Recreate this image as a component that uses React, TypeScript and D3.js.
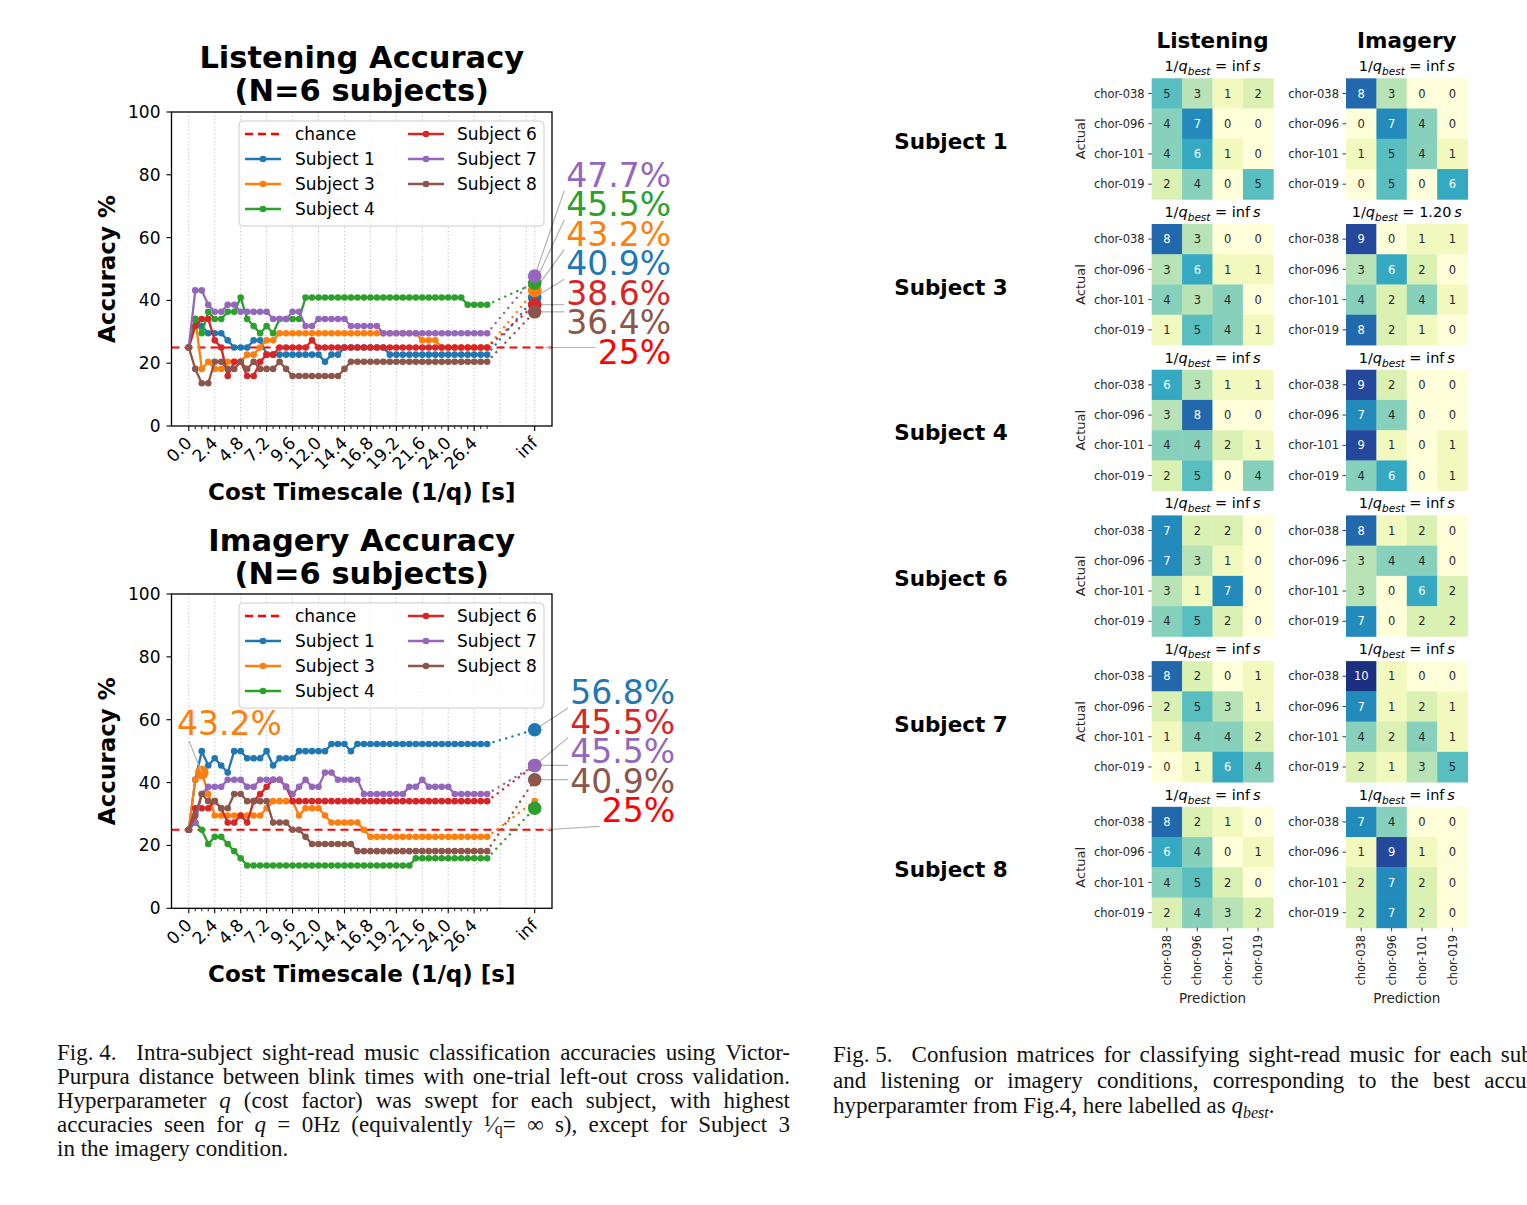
import React from 'react';
import * as d3 from 'd3';

const FONT = '"DejaVu Sans", Verdana, sans-serif';
const SERIF = '"Liberation Serif", "Times New Roman", serif';

// ---------------- data ----------------
const SUBJECTS = ['Subject 1', 'Subject 3', 'Subject 4', 'Subject 6', 'Subject 7', 'Subject 8'];
const SUBJECT_COLORS = ['#1f77b4', '#ff7f0e', '#2ca02c', '#d62728', '#9467bd', '#8c564b'];
const CHANCE_COLOR = '#ff0000';
const TOTAL_TRIALS = 44; // accuracies are correct trials out of 44
const CHANCE_PCT = 25;
const Q_STEP_S = 0.6; // sweep step of 1/q in seconds
const N_SWEEP = 47;
const INF_X = 32; // position where "inf" is plotted
const MAJOR_TICKS = [0, 2.4, 4.8, 7.2, 9.6, 12.0, 14.4, 16.8, 19.2, 21.6, 24.0, 26.4];
const GRID_TICKS = [0, 2.4, 4.8, 7.2, 9.6, 12.0, 14.4, 16.8, 19.2, 21.6, 24.0, 26.4, 28.8, 31.2];
const Y_TICKS = [0, 20, 40, 60, 80, 100];

// Listening: correct trials (of 44) per sweep step
const LISTEN_S1 = [11,15,14,13,13,13,12,11,11,11, 12,12,10,10,10,10,10,10,10,10, 10,9,10,10,11,11,11,11,11,11, 11,10,10,10,10,10,10,10,10,10, 10,10,10,10,10,10,10];
const LISTEN_S3 = [11,15,8,9,8,8,9,9,9,10, 10,11,12,12,13,13,13,13,13,13, 13,13,13,13,13,13,13,13,13,13, 13,13,13,13,13,13,12,12,12,11, 11,11,11,11,11,11,11];
const LISTEN_S4 = [11,15,13,16,15,15,16,16,18,15, 14,13,14,13,15,15,15,15,18,18, 18,18,18,18,18,18,18,18,18,18, 18,18,18,18,18,18,18,18,18,18, 18,18,18,17,17,17,17];
const LISTEN_S6 = [11,14,15,15,12,11,7,9,9,7, 7,9,10,10,11,11,11,11,11,12, 11,11,11,11,11,11,11,11,11,11, 11,11,11,11,11,11,11,11,11,11, 11,11,11,11,11,11,11];
const LISTEN_S7 = [11,19,19,17,16,16,17,17,16,16, 16,16,16,15,15,15,16,16,14,14, 15,15,15,15,15,14,14,14,14,14, 13,13,13,13,13,13,13,13,13,13, 13,13,13,13,13,13,13];
const LISTEN_S8 = [11,8,6,6,9,9,8,8,9,8, 9,8,8,8,9,8,7,7,7,7, 7,7,7,7,8,9,9,9,9,9, 9,9,9,9,9,9,9,9,9,9, 9,9,9,9,9,9,9];
const LISTEN_INF = [18, 19, 20, 17, 21, 16];
const LISTEN_BEST_INDEX = [-1, -1, -1, -1, -1, -1]; // -1 = best at inf
const LISTEN_LABEL_ORDER = [4, 2, 1, 0, 3, 5];

// Imagery
const IMAGERY_S1 = [11,18,22,20,21,20,19,22,22,21, 21,21,22,20,21,21,21,22,22,22, 22,22,23,23,23,22,23,23,23,23, 23,23,23,23,23,23,23,23,23,23, 23,23,23,23,23,23,23];
const IMAGERY_S3 = [11,18,19,16,13,13,13,13,13,13, 13,13,14,15,15,15,15,13,14,14, 14,13,12,12,12,12,12,11,10,10, 10,10,10,10,10,10,10,10,10,10, 10,10,10,10,10,10,10];
const IMAGERY_S4 = [11,12,11,9,10,10,9,8,7,6, 6,6,6,6,6,6,6,6,6,6, 6,6,6,6,6,6,6,6,6,6, 6,6,6,6,6,7,7,7,7,7, 7,7,7,7,7,7,7];
const IMAGERY_S6 = [11,14,14,14,15,14,12,12,13,12, 15,16,17,18,18,17,15,15,15,15, 15,15,15,15,15,15,15,15,15,15, 15,15,15,15,15,15,15,15,15,15, 15,15,15,15,15,15,15];
const IMAGERY_S7 = [11,12,16,17,17,17,18,18,18,17, 17,18,18,18,18,17,16,17,18,17, 17,19,19,18,18,18,18,16,16,16, 16,16,16,16,17,17,18,17,17,17, 17,16,16,16,16,16,16];
const IMAGERY_S8 = [11,13,16,15,15,14,14,16,16,15, 15,15,15,12,12,12,11,11,10,9, 9,9,9,9,9,9,8,8,8,8, 8,8,8,8,8,8,8,8,8,8, 8,8,8,8,8,8,8];
const IMAGERY_INF = [25, 15, 14, 20, 20, 18];
const IMAGERY_BEST_INDEX = [-1, 2, -1, -1, -1, -1];
const IMAGERY_LABEL_ORDER = [0, 3, 4, 5];

// Confusion matrices
const CM_CLASSES = ['chor-038', 'chor-096', 'chor-101', 'chor-019'];
const CM_SUBJECTS = ['Subject 1', 'Subject 3', 'Subject 4', 'Subject 6', 'Subject 7', 'Subject 8'];
const CM_LISTEN = [
  [[5,3,1,2],[4,7,0,0],[4,6,1,0],[2,4,0,5]],
  [[8,3,0,0],[3,6,1,1],[4,3,4,0],[1,5,4,1]],
  [[6,3,1,1],[3,8,0,0],[4,4,2,1],[2,5,0,4]],
  [[7,2,2,0],[7,3,1,0],[3,1,7,0],[4,5,2,0]],
  [[8,2,0,1],[2,5,3,1],[1,4,4,2],[0,1,6,4]],
  [[8,2,1,0],[6,4,0,1],[4,5,2,0],[2,4,3,2]],
];
const CM_IMAGERY = [
  [[8,3,0,0],[0,7,4,0],[1,5,4,1],[0,5,0,6]],
  [[9,0,1,1],[3,6,2,0],[4,2,4,1],[8,2,1,0]],
  [[9,2,0,0],[7,4,0,0],[9,1,0,1],[4,6,0,1]],
  [[8,1,2,0],[3,4,4,0],[3,0,6,2],[7,0,2,2]],
  [[10,1,0,0],[7,1,2,1],[4,2,4,1],[2,1,3,5]],
  [[7,4,0,0],[1,9,1,0],[2,7,2,0],[2,7,2,0]],
];
const QBEST_LISTEN = ['inf', 'inf', 'inf', 'inf', 'inf', 'inf'];
const QBEST_IMAGERY = ['inf', '1.20', 'inf', 'inf', 'inf', 'inf'];
const CM_MAX = 11;

// ---------------- helpers ----------------
const measureCtx: CanvasRenderingContext2D | null =
  typeof document !== 'undefined' ? document.createElement('canvas').getContext('2d') : null;
function textWidth(t: string, font: string) {
  if (!measureCtx) return t.length * 8;
  measureCtx.font = font;
  return measureCtx.measureText(t).width;
}
const pct = (k: number) => (k / TOTAL_TRIALS) * 100;

// ---------------- layout ----------------
const PLOT_LEFT = 171.5;
const PLOT_RIGHT = 552;

const PANELS = [
  {
    key: 'listen',
    title: ['Listening Accuracy', '(N=6 subjects)'],
    titleBase: [68, 101],
    top: 112,
    bottom: 426,
    series: [LISTEN_S1, LISTEN_S3, LISTEN_S4, LISTEN_S6, LISTEN_S7, LISTEN_S8],
    inf: LISTEN_INF,
    best: LISTEN_BEST_INDEX,
    order: LISTEN_LABEL_ORDER,
    labelRight: 671,
    labelBase0: 186.7,
    labelStep: 29.5,
    legendTop: 121,
  },
  {
    key: 'imagery',
    title: ['Imagery Accuracy', '(N=6 subjects)'],
    titleBase: [551, 584],
    top: 594,
    bottom: 908.3,
    series: [IMAGERY_S1, IMAGERY_S3, IMAGERY_S4, IMAGERY_S6, IMAGERY_S7, IMAGERY_S8],
    inf: IMAGERY_INF,
    best: IMAGERY_BEST_INDEX,
    order: IMAGERY_LABEL_ORDER,
    labelRight: 675,
    labelBase0: 704,
    labelStep: 29.6,
    legendTop: 603,
  },
];

function AccuracyPanel({ p }: { p: any }) {
  const x = d3.scaleLinear().domain([-1.6, 33.6]).range([PLOT_LEFT, PLOT_RIGHT]);
  const y = d3.scaleLinear().domain([0, 100]).range([p.bottom, p.top]);
  const sweep = d3.range(N_SWEEP).map((i) => +(i * Q_STEP_S).toFixed(2));
  const lineGen = d3
    .line<number>()
    .x((_, i) => x(sweep[i]))
    .y((k) => y(pct(k)));
  const lastX = sweep[N_SWEEP - 1];
  const midX = (PLOT_LEFT + PLOT_RIGHT) / 2;
  const labelFont = `33px ${FONT}`;

  const labels: any[] = p.order.map((si: number, j: number) => {
    const k = p.inf[si];
    return {
      text: pct(k).toFixed(1) + '%',
      color: SUBJECT_COLORS[si],
      dot: [x(INF_X), y(pct(k))],
      base: p.labelBase0 + j * p.labelStep,
    };
  });
  labels.push({
    text: '25%',
    color: CHANCE_COLOR,
    dot: [x(33), y(CHANCE_PCT)],
    base: p.labelBase0 + labels.length * p.labelStep,
  });

  const legendItems = [
    { label: 'chance', color: CHANCE_COLOR, dashed: true },
    ...SUBJECTS.map((s, i) => ({ label: s, color: SUBJECT_COLORS[i], dashed: false })),
  ];
  const minorTicks = sweep.filter((v) => !MAJOR_TICKS.some((m) => Math.abs(m - v) < 1e-6));

  return (
    <g>
      {p.title.map((t: string, i: number) => (
        <text key={t} x={midX} y={p.titleBase[i]} textAnchor="middle" fontFamily={FONT} fontWeight="bold" fontSize={30.5}>
          {t}
        </text>
      ))}
      {[...GRID_TICKS, INF_X].map((g) => (
        <line key={'g' + g} x1={x(g)} x2={x(g)} y1={p.top} y2={p.bottom} stroke="#b0b0b0" strokeWidth={0.8} strokeDasharray="1.2,2.4" />
      ))}
      <line x1={PLOT_LEFT} x2={PLOT_RIGHT} y1={y(CHANCE_PCT)} y2={y(CHANCE_PCT)} stroke={CHANCE_COLOR} strokeWidth={2.2} strokeDasharray="8,5" />
      {p.series.map((s: number[], si: number) => (
        <g key={'s' + si}>
          <path d={lineGen(s) || ''} fill="none" stroke={SUBJECT_COLORS[si]} strokeWidth={2.3} strokeLinejoin="round" />
          {s.map((k, i) => (
            <circle key={i} cx={x(sweep[i])} cy={y(pct(k))} r={3.3} fill={SUBJECT_COLORS[si]} />
          ))}
          <line
            x1={x(lastX)}
            y1={y(pct(s[N_SWEEP - 1]))}
            x2={x(INF_X)}
            y2={y(pct(p.inf[si]))}
            stroke={SUBJECT_COLORS[si]}
            strokeWidth={2.4}
            strokeDasharray="0.1,6.5"
            strokeLinecap="round"
          />
        </g>
      ))}
      {labels.map((l, j) => {
        const w = textWidth(l.text, labelFont);
        const lx = p.labelRight - w - 2;
        const ly = Math.max(l.base - 30, Math.min(l.base + 4, l.dot[1]));
        return <line key={'c' + j} x1={l.dot[0]} y1={l.dot[1]} x2={lx} y2={ly} stroke="#b3b3b3" strokeWidth={1.2} />;
      })}
      {p.series.map((s: number[], si: number) => {
        const bi = p.best[si];
        return (
          <g key={'b' + si}>
            <circle cx={x(INF_X)} cy={y(pct(p.inf[si]))} r={bi < 0 ? 6.8 : 3.3} fill={SUBJECT_COLORS[si]} />
            {bi >= 0 && <circle cx={x(sweep[bi])} cy={y(pct(s[bi]))} r={6.8} fill={SUBJECT_COLORS[si]} />}
          </g>
        );
      })}
      {p.series.map((s: number[], si: number) => {
        const bi = p.best[si];
        if (bi < 0) return null;
        const lx = 177;
        const base = 735;
        return (
          <g key={'e' + si}>
            <line x1={x(sweep[bi])} y1={y(pct(s[bi]))} x2={lx + 12} y2={base + 6} stroke="#b3b3b3" strokeWidth={1.2} />
            <text x={lx} y={base} fontFamily={FONT} fontSize={33} fill={SUBJECT_COLORS[si]}>
              {pct(s[bi]).toFixed(1)}%
            </text>
          </g>
        );
      })}
      <rect x={PLOT_LEFT} y={p.top} width={PLOT_RIGHT - PLOT_LEFT} height={p.bottom - p.top} fill="none" stroke="#000" strokeWidth={1.3} />
      {Y_TICKS.map((t) => (
        <g key={'y' + t}>
          <line x1={PLOT_LEFT - 5} x2={PLOT_LEFT} y1={y(t)} y2={y(t)} stroke="#000" strokeWidth={1.1} />
          <text x={PLOT_LEFT - 11} y={y(t)} dy="0.35em" textAnchor="end" fontFamily={FONT} fontSize={17}>
            {t}
          </text>
        </g>
      ))}
      {minorTicks.map((t) => (
        <line key={'m' + t} x1={x(t)} x2={x(t)} y1={p.bottom} y2={p.bottom + 3} stroke="#000" strokeWidth={0.9} />
      ))}
      {[...MAJOR_TICKS, INF_X].map((t) => (
        <g key={'x' + t}>
          <line x1={x(t)} x2={x(t)} y1={p.bottom} y2={p.bottom + 5} stroke="#000" strokeWidth={1.1} />
          <text
            transform={`translate(${x(t) + 4},${p.bottom + 18}) rotate(-45)`}
            textAnchor="end"
            fontFamily={FONT}
            fontSize={17}
          >
            {t === INF_X ? 'inf' : t.toFixed(1)}
          </text>
        </g>
      ))}
      <text x={midX} y={p.bottom + 74} textAnchor="middle" fontFamily={FONT} fontWeight="bold" fontSize={23}>
        Cost Timescale (1/q) [s]
      </text>
      <text
        transform={`translate(${115},${(p.top + p.bottom) / 2}) rotate(-90)`}
        textAnchor="middle"
        fontFamily={FONT}
        fontWeight="bold"
        fontSize={23}
      >
        Accuracy %
      </text>
      <g>
        <rect x={239} y={p.legendTop} width={305} height={105} rx={4} fill="#fff" fillOpacity={0.8} stroke="#cccccc" strokeWidth={1} />
        {legendItems.map((it, i) => {
          const col = i < 4 ? 0 : 1;
          const row = i < 4 ? i : i - 4;
          const hx = col === 0 ? 245 : 408;
          const tx = col === 0 ? 295 : 457;
          const cy = p.legendTop + 13 + row * 25;
          return (
            <g key={it.label}>
              <line x1={hx} x2={hx + 36} y1={cy} y2={cy} stroke={it.color} strokeWidth={2.3} strokeDasharray={it.dashed ? '8,5' : undefined} />
              {!it.dashed && <circle cx={hx + 18} cy={cy} r={3.3} fill={it.color} />}
              <text x={tx} y={cy} dy="0.36em" fontFamily={FONT} fontSize={17}>
                {it.label}
              </text>
            </g>
          );
        })}
      </g>
      {labels.map((l, j) => (
        <text key={'l' + j} x={p.labelRight} y={l.base} textAnchor="end" fontFamily={FONT} fontSize={33} fill={l.color}>
          {l.text}
        </text>
      ))}
    </g>
  );
}

// ---------------- confusion matrices ----------------
const CM_COLS = [
  { name: 'Listening', x0: 1151.7, data: CM_LISTEN, q: QBEST_LISTEN },
  { name: 'Imagery', x0: 1346, data: CM_IMAGERY, q: QBEST_IMAGERY },
];
const CELL_W = 30.4;
const CELL_H = 30.25;
const ROW_TOP0 = 78.3;
const ROW_PITCH = 145.7;

function ConfusionGrid() {
  const color = d3.scaleSequential(d3.interpolateYlGnBu).domain([0, CM_MAX]);
  const nRows = CM_SUBJECTS.length;
  return (
    <g>
      {CM_SUBJECTS.map((s, j) => {
        const top = ROW_TOP0 + j * ROW_PITCH;
        return (
          <text key={s} x={951} y={top + 2 * CELL_H + 10} textAnchor="middle" fontFamily={FONT} fontWeight="bold" fontSize={21.5}>
            {s}
          </text>
        );
      })}
      {CM_COLS.map((c, ci) => {
        const xb = d3.scaleBand<string>().domain(CM_CLASSES).range([c.x0, c.x0 + CM_CLASSES.length * CELL_W]);
        const cx = c.x0 + (CM_CLASSES.length * CELL_W) / 2;
        return (
          <g key={c.name}>
            <text x={cx} y={48} textAnchor="middle" fontFamily={FONT} fontWeight="bold" fontSize={21.5}>
              {c.name}
            </text>
            {c.data.map((m, j) => {
              const top = ROW_TOP0 + j * ROW_PITCH;
              const yb = d3.scaleBand<string>().domain(CM_CLASSES).range([top, top + CM_CLASSES.length * CELL_H]);
              return (
                <g key={j}>
                  <text x={cx} y={top - 7} textAnchor="middle" fontFamily={FONT} fontSize={14.5}>
                    <tspan>1/</tspan>
                    <tspan fontStyle="italic">q</tspan>
                    <tspan fontStyle="italic" fontSize={10.5} dy={4}>
                      best
                    </tspan>
                    <tspan dy={-4}>{' = ' + c.q[j]}</tspan>
                    <tspan fontStyle="italic">{'\u2009s'}</tspan>
                  </text>
                  {m.map((row, r) =>
                    row.map((v, k) => (
                      <g key={r + '-' + k}>
                        <rect x={xb(CM_CLASSES[k])} y={yb(CM_CLASSES[r])} width={xb.bandwidth() + 0.4} height={yb.bandwidth() + 0.4} fill={color(v)} />
                        <text
                          x={(xb(CM_CLASSES[k]) || 0) + xb.bandwidth() / 2}
                          y={(yb(CM_CLASSES[r]) || 0) + yb.bandwidth() / 2}
                          dy="0.36em"
                          textAnchor="middle"
                          fontFamily={FONT}
                          fontSize={11.5}
                          fill={v >= 6 ? '#ffffff' : '#262626'}
                        >
                          {v}
                        </text>
                      </g>
                    ))
                  )}
                  {CM_CLASSES.map((lab) => {
                    const yy = (yb(lab) || 0) + yb.bandwidth() / 2;
                    return (
                      <g key={lab}>
                        <line x1={c.x0 - 3.5} x2={c.x0} y1={yy} y2={yy} stroke="#262626" strokeWidth={0.9} />
                        <text x={c.x0 - 7} y={yy} dy="0.36em" textAnchor="end" fontFamily={FONT} fontSize={11.5} fill="#262626">
                          {lab}
                        </text>
                      </g>
                    );
                  })}
                  {ci === 0 && (
                    <text
                      transform={`translate(${1085},${top + 2 * CELL_H}) rotate(-90)`}
                      textAnchor="middle"
                      fontFamily={FONT}
                      fontSize={13}
                      fill="#262626"
                    >
                      Actual
                    </text>
                  )}
                  {j === nRows - 1 &&
                    CM_CLASSES.map((lab) => {
                      const xx = (xb(lab) || 0) + xb.bandwidth() / 2;
                      const bottom = top + CM_CLASSES.length * CELL_H;
                      return (
                        <g key={'xt' + lab}>
                          <line x1={xx} x2={xx} y1={bottom} y2={bottom + 3.5} stroke="#262626" strokeWidth={0.9} />
                          <text
                            transform={`translate(${xx},${bottom + 7}) rotate(-90)`}
                            dy="0.36em"
                            textAnchor="end"
                            fontFamily={FONT}
                            fontSize={11.5}
                            fill="#262626"
                          >
                            {lab}
                          </text>
                        </g>
                      );
                    })}
                  {j === nRows - 1 && (
                    <text x={cx} y={1003} textAnchor="middle" fontFamily={FONT} fontSize={13.5} fill="#262626">
                      Prediction
                    </text>
                  )}
                </g>
              );
            })}
          </g>
        );
      })}
    </g>
  );
}

// ---------------- captions ----------------
type Seg = { t: string; it?: boolean; sub?: boolean; small?: boolean };
type Word = { segs: Seg[]; gapAfter?: number };
const W = (t: string, gapAfter?: number): Word => ({ segs: [{ t }], gapAfter });
const words = (s: string): Word[] => s.split(' ').map((t) => W(t));
const CAP_SIZE = 23;
const CAP_SMALL = 16;

const FIG4_LINES: { words: Word[]; justify: boolean }[] = [
  { words: [W('Fig. 4.', 10), ...words('Intra-subject sight-read music classification accuracies using Victor-')], justify: true },
  { words: words('Purpura distance between blink times with one-trial left-out cross validation.'), justify: true },
  {
    words: [W('Hyperparameter'), { segs: [{ t: 'q', it: true }] }, ...words('(cost factor) was swept for each subject, with highest')],
    justify: true,
  },
  {
    words: [
      ...words('accuracies seen for'),
      { segs: [{ t: 'q', it: true }] },
      W('='),
      W('0Hz'),
      W('(equivalently'),
      { segs: [{ t: '\u00b9\u2044' }, { t: 'q', small: true }, { t: '=' }] },
      W('\u221e'),
      ...words('s), except for Subject 3'),
    ],
    justify: true,
  },
  { words: words('in the imagery condition.'), justify: false },
];
const FIG5_LINES: { words: Word[]; justify: boolean }[] = [
  { words: [W('Fig. 5.', 10), ...words('Confusion matrices for classifying sight-read music for each subject')], justify: true },
  { words: words('and listening or imagery conditions, corresponding to the best accuracy'), justify: true },
  {
    words: [...words('hyperparamter from Fig.4, here labelled as'), { segs: [{ t: 'q', it: true }, { t: 'best', it: true, sub: true }, { t: '.' }] }],
    justify: false,
  },
];

function segFont(s: Seg) {
  return `${s.it ? 'italic ' : ''}${s.sub || s.small ? CAP_SMALL : CAP_SIZE}px ${SERIF}`;
}

function Caption({ x0, y0, lineH, width, lines }: { x0: number; y0: number; lineH: number; width: number; lines: any[] }) {
  const space = textWidth(' ', `${CAP_SIZE}px ${SERIF}`);
  return (
    <g>
      {lines.map((ln: any, li: number) => {
        const ws: Word[] = ln.words;
        const ww = ws.map((w) => d3.sum(w.segs.map((s) => textWidth(s.t, segFont(s)))));
        const extras = d3.sum(ws.map((w) => w.gapAfter || 0));
        const gap = ln.justify ? Math.max(2, (width - d3.sum(ww) - extras) / (ws.length - 1)) : space;
        let cx = x0;
        const yy = y0 + li * lineH;
        return ws.map((w, i) => {
          const xx = cx;
          cx += ww[i] + gap + (w.gapAfter || 0);
          let shift = 0;
          return (
            <text key={li + '-' + i} x={xx} y={yy} fontFamily={SERIF} fontSize={CAP_SIZE} fill="#111">
              {w.segs.map((s, k) => {
                const target = s.sub ? 5 : s.small ? 2 : 0;
                const dy = target - shift;
                shift = target;
                return (
                  <tspan key={k} dy={dy} fontStyle={s.it ? 'italic' : undefined} fontSize={s.sub || s.small ? CAP_SMALL : undefined}>
                    {s.t}
                  </tspan>
                );
              })}
            </text>
          );
        });
      })}
    </g>
  );
}

export default function App() {
  return (
    <svg width={1527} height={1205} style={{ position: 'absolute', left: 0, top: 0, background: '#fff' }}>
      <rect width={1527} height={1205} fill="#fff" />
      {PANELS.map((p) => (
        <AccuracyPanel key={p.key} p={p} />
      ))}
      <ConfusionGrid />
      <Caption x0={57} y0={1060} lineH={24} width={733} lines={FIG4_LINES} />
      <Caption x0={833} y0={1062} lineH={25.5} width={733} lines={FIG5_LINES} />
    </svg>
  );
}
